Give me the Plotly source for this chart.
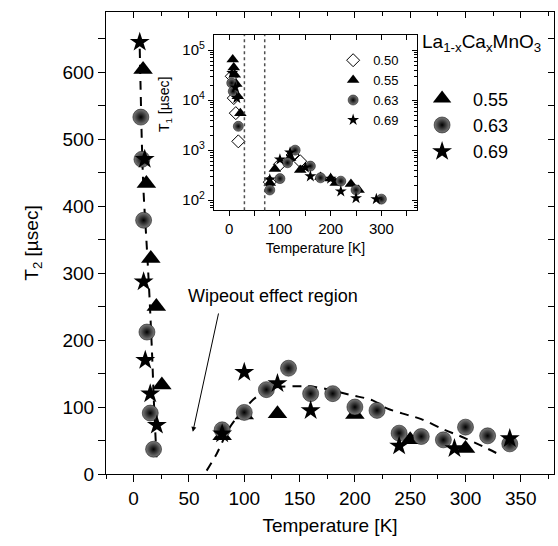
import plotly.graph_objects as go

# ---- main panel: T2 vs temperature ----
temp_055 = [8.5, 11.5, 15.5, 20.5, 25.5, 80, 100, 130, 200, 250, 300]
t2_055 = [604, 434, 322, 250, 133, 57, 88, 90, 89, 51, 38]

temp_063 = [6.5, 7.5, 9, 12, 15, 18, 80, 100, 120, 140, 160, 180, 200, 220,
            240, 260, 280, 300, 320, 340]
t2_063 = [533, 470, 379, 212, 91, 37, 66, 92, 126, 158, 120, 120, 100, 95,
          61, 56, 51, 70, 57, 45]

temp_069 = [5.5, 10, 9, 10.5, 15, 21, 80, 100, 130, 160, 240, 290, 340]
t2_069 = [645, 470, 287, 170, 120, 73, 60, 152, 135, 95, 42, 38, 53]

# dashed guides to the eye
guide_low_temp = [5.5, 6.5, 7.5, 9, 11.5, 14, 16.5, 18.5, 21]
guide_low_t2 = [635, 560, 490, 420, 350, 275, 185, 100, 15]
guide_high_temp = [66, 75, 87, 100, 111, 125, 147, 164, 196, 216, 229, 248,
                   260, 281, 296, 316, 333]
guide_high_t2 = [5, 30, 70, 97, 115, 128, 131, 130, 118, 110, 98, 88, 82,
                 66, 56, 41, 27]

# ---- inset: T1 vs temperature ----
in_temp_050 = [5, 9, 13, 18, 80, 100, 125, 140]
t1_050 = [3e4, 1.1e4, 5.5e3, 1.5e3, 230, 520, 800, 600]
in_temp_055 = [7, 9, 11, 14, 17, 22, 80, 90, 120, 140, 180, 200, 210, 240, 255]
t1_055 = [6.5e4, 4.5e4, 3.2e4, 2.1e4, 1.2e4, 5.5e3, 220, 420, 700, 400, 290,
          270, 220, 210, 160]
in_temp_063 = [5, 8, 18, 80, 100, 115, 130, 160, 180, 220, 250, 300]
t1_063 = [2.2e4, 1.5e4, 3e3, 160, 270, 560, 1000, 480, 280, 240, 160, 105]
in_temp_069 = [6, 12, 15, 80, 100, 120, 150, 160, 200, 220, 250, 290]
t1_069 = [3.5e4, 1.8e4, 1.1e4, 260, 650, 900, 450, 300, 270, 150, 110, 105]

wipeout_lines = [30, 70]

main_xticks = [0, 50, 100, 150, 200, 250, 300, 350]
main_yticks = [0, 100, 200, 300, 400, 500, 600]
inset_xticks = [0, 100, 200, 300]
inset_yticks = [100, 1000, 10000, 100000]
inset_yticklabels = ['10<sup>2</sup>', '10<sup>3</sup>', '10<sup>4</sup>', '10<sup>5</sup>']

FONT = 'Liberation Sans, Arial, sans-serif'


def marker_style(kind, size):
    if kind == 'tri':
        return dict(symbol='triangle-up', size=size + 1, color='black')
    if kind == 'star':
        return dict(symbol='star', size=size - 1, color='black')
    if kind == 'dia':
        return dict(symbol='diamond-open', size=size, color='black',
                    line=dict(color='black', width=1))
    return dict(symbol='circle', size=size, color='rgb(125,125,125)',
                gradient=dict(type='radial', color='black'),
                line=dict(color='black', width=0.5))


fig = go.Figure()

# guides
for gx, gy in [(guide_low_temp, guide_low_t2), (guide_high_temp, guide_high_t2)]:
    fig.add_trace(go.Scatter(x=gx, y=gy, mode='lines', line_shape='spline',
                             line=dict(color='black', width=2, dash='9px,7px'),
                             showlegend=False, hoverinfo='skip'))

for xs, ys, kind, name in [(temp_055, t2_055, 'tri', '0.55'),
                           (temp_063, t2_063, 'ball', '0.63'),
                           (temp_069, t2_069, 'star', '0.69')]:
    fig.add_trace(go.Scatter(x=xs, y=ys, mode='markers', name=name,
                             marker=marker_style(kind, 16), legend='legend'))

for xs, ys, kind, name in [(in_temp_050, t1_050, 'dia', '0.50'),
                           (in_temp_055, t1_055, 'tri', '0.55'),
                           (in_temp_063, t1_063, 'ball', '0.63'),
                           (in_temp_069, t1_069, 'star', '0.69')]:
    fig.add_trace(go.Scatter(x=xs, y=ys, mode='markers', name=name,
                             xaxis='x2', yaxis='y2',
                             marker=marker_style(kind, 10), legend='legend2'))

# empty traces so the mirrored tick axes get drawn
for xa, ya in [('x3', 'y3'), ('x4', 'y4')]:
    fig.add_trace(go.Scatter(x=[], y=[], xaxis=xa, yaxis=ya, showlegend=False,
                             hoverinfo='skip'))

for xv in wipeout_lines:
    fig.add_shape(type='line', xref='x2', yref='y2 domain', x0=xv, x1=xv,
                  y0=0, y1=1, line=dict(color='rgb(80,80,80)', width=1.5, dash='dot'))

axis_common = dict(showgrid=False, zeroline=False, linecolor='black',
                   linewidth=1.2, tickcolor='black', tickwidth=1.2)

fig.update_layout(
    width=558, height=546,
    margin=dict(l=106, r=4, t=12, b=72),
    paper_bgcolor='white', plot_bgcolor='white',
    font=dict(family=FONT, color='black'),
    xaxis=dict(range=[-25, 380], tickvals=main_xticks, ticks='outside', ticklen=7,
               minor=dict(dtick=25, tick0=0, ticks='outside', ticklen=4),
               mirror=True, showline=True, tickfont=dict(size=19),
               title=dict(text='Temperature [K]', font=dict(size=19), standoff=10),
               **axis_common),
    yaxis=dict(range=[0, 690], tickvals=main_yticks, ticks='outside', ticklen=7,
               minor=dict(dtick=50, tick0=0, ticks='outside', ticklen=7),
               mirror=True, showline=True, tickfont=dict(size=19),
               title=dict(text='T<sub>2</sub> [µsec]', font=dict(size=19), standoff=18),
               **axis_common),
    xaxis3=dict(overlaying='x', side='top', anchor='y', range=[-25, 380],
                tickvals=main_xticks, ticks='inside', ticklen=6, showticklabels=False,
                minor=dict(dtick=25, tick0=0, ticks='inside', ticklen=4),
                showline=False, **axis_common),
    yaxis3=dict(overlaying='y', side='right', anchor='x', range=[0, 690],
                tickvals=main_yticks, ticks='inside', ticklen=6, showticklabels=False,
                minor=dict(dtick=50, tick0=0, ticks='inside', ticklen=6),
                showline=False, **axis_common),
    xaxis2=dict(domain=[0.241, 0.694], anchor='y2', range=[-30, 370],
                tickvals=inset_xticks, ticks='outside', ticklen=5,
                minor=dict(dtick=50, tick0=0, ticks='outside', ticklen=5),
                mirror=True, showline=True, tickfont=dict(size=15),
                title=dict(text='Temperature [K]', font=dict(size=14), standoff=6),
                **axis_common),
    yaxis2=dict(domain=[0.571, 0.950], anchor='x2', type='log', range=[1.8, 5.3],
                tickvals=inset_yticks, ticktext=inset_yticklabels,
                ticks='outside', ticklen=5,
                minor=dict(ticks='outside', ticklen=3, dtick='D1'),
                mirror=True, showline=True, tickfont=dict(size=15),
                **axis_common),
    xaxis4=dict(overlaying='x2', side='top', anchor='y2', range=[-30, 370],
                tickvals=inset_xticks, ticks='inside', ticklen=5, showticklabels=False,
                minor=dict(dtick=50, tick0=0, ticks='inside', ticklen=5),
                showline=False, **axis_common),
    yaxis4=dict(overlaying='y2', side='right', anchor='x2', type='log', range=[1.8, 5.3],
                tickvals=inset_yticks, ticks='inside', ticklen=5, showticklabels=False,
                minor=dict(ticks='inside', ticklen=3, dtick='D1'),
                showline=False, **axis_common),
    legend=dict(x=0.681, y=0.852, xanchor='left', yanchor='top', itemwidth=52,
                font=dict(size=18), bgcolor='rgba(0,0,0,0)'),
    legend2=dict(x=0.507, y=0.928, xanchor='left', yanchor='top',
                 font=dict(size=13), bgcolor='rgba(0,0,0,0)'),
)

annotations = [
    dict(xref='paper', yref='paper', x=0.701, y=0.932, xanchor='left', yanchor='middle',
         text='La<sub>1-x</sub>Ca<sub>x</sub>MnO<sub>3</sub>', showarrow=False,
         font=dict(size=19)),
    dict(xref='x', yref='y', x=126, y=266, text='Wipeout effect region',
         showarrow=False, font=dict(size=18)),
    dict(xref='x', yref='y', x=53.5, y=63, ax=77, ay=242, axref='x', ayref='y',
         text='', showarrow=True, arrowhead=2, arrowsize=1, arrowwidth=1,
         arrowcolor='black'),
    dict(xref='paper', yref='paper', x=0.132, y=0.801, xanchor='center',
         yanchor='middle', text='T<sub>1</sub> [µsec]',
         textangle=-90, showarrow=False, font=dict(size=14)),
]
fig.update_layout(annotations=annotations)

fig.write_html('out.html', config={'displayModeBar': False},
               post_script="document.body.style.margin='0';")
